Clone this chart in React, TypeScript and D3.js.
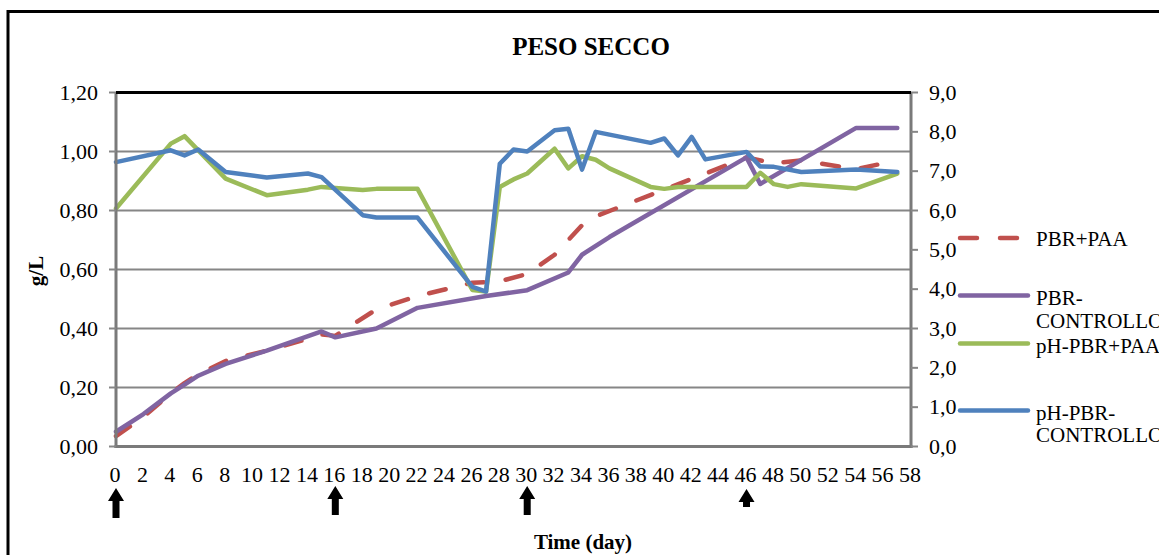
import React from 'react';
import * as d3 from 'd3';

// ---------- DATA ----------
const xTicks: number[] = d3.range(0, 59, 2);
const leftTicks: number[] = [0, 0.2, 0.4, 0.6, 0.8, 1.0, 1.2];
const rightTicks: number[] = [0, 1, 2, 3, 4, 5, 6, 7, 8, 9];

// g/L, left axis
const pbrPaa: [number, number][] = [
  [0, 0.035], [2, 0.1], [4, 0.18], [5, 0.215], [6, 0.245], [8, 0.29], [11, 0.325],
  [14, 0.365], [15, 0.38], [16, 0.375], [19, 0.465], [22, 0.51], [26, 0.555], [28, 0.56],
  [30, 0.585], [32, 0.65], [33, 0.7], [34, 0.75], [35, 0.78], [46, 0.98], [48, 0.96],
  [50, 0.97], [54, 0.94], [57, 0.97],
];
const pbrControllo: [number, number][] = [
  [0, 0.05], [2, 0.11], [4, 0.18], [5, 0.21], [6, 0.24], [8, 0.28], [11, 0.325],
  [15, 0.39], [16, 0.37], [19, 0.4], [22, 0.47], [27, 0.51], [30, 0.53], [33, 0.59],
  [34, 0.65], [36, 0.71], [46, 0.98], [47, 0.89], [54, 1.08], [57, 1.08],
];
// pH, right axis
const phPbrPaa: [number, number][] = [
  [0, 6.05], [4, 7.7], [5, 7.89], [8, 6.81], [11, 6.39], [14, 6.53], [15, 6.6],
  [18, 6.52], [19, 6.55], [22, 6.55], [26, 3.98], [27, 3.94], [28, 6.6], [29, 6.79],
  [30, 6.94], [32, 7.57], [33, 7.07], [34, 7.38], [35, 7.29], [36, 7.07], [39, 6.6],
  [40, 6.55], [41, 6.6], [46, 6.6], [47, 6.96], [48, 6.67], [49, 6.6], [50, 6.67],
  [54, 6.56], [57, 6.94],
];
const phPbrControllo: [number, number][] = [
  [0, 7.23], [4, 7.53], [5, 7.4], [6, 7.55], [8, 6.98], [11, 6.84], [14, 6.94],
  [15, 6.85], [18, 5.88], [19, 5.82], [22, 5.82], [26, 4.06], [27, 3.94], [28, 7.19],
  [29, 7.55], [30, 7.5], [32, 8.04], [33, 8.08], [34, 7.04], [35, 8.0], [36, 7.93],
  [39, 7.72], [40, 7.83], [41, 7.4], [42, 7.87], [43, 7.3], [46, 7.49], [47, 7.12],
  [48, 7.11], [50, 6.98], [54, 7.04], [57, 6.98],
];
const arrowDays: number[] = [0, 16, 30, 46];

// ---------- STYLE ----------
const FONT = '"Liberation Serif", "Times New Roman", serif';
const W = 1159;
const H = 555;
const L = 116, R = 911, T = 92.5, B = 446.5;
const GRID = '#868686';

const App: React.FC = () => {
  const x = d3.scaleLinear().domain([0, 58]).range([L, R]);
  const yL = d3.scaleLinear().domain([0, 1.2]).range([B, T]);
  const yR = d3.scaleLinear().domain([0, 9]).range([B, T]);

  const lineL = d3.line<[number, number]>().x(d => x(d[0])).y(d => yL(d[1]));
  const lineR = d3.line<[number, number]>().x(d => x(d[0])).y(d => yR(d[1]));

  const series = [
    { name: ['PBR+PAA'], color: '#C0504D', dash: '17 22', path: lineL(pbrPaa), ly: 238 },
    { name: ['PBR-', 'CONTROLLO'], color: '#8064A2', dash: undefined, path: lineL(pbrControllo), ly: 295.5 },
    { name: ['pH-PBR+PAA'], color: '#9BBB59', dash: undefined, path: lineR(phPbrPaa), ly: 343.5 },
    { name: ['pH-PBR-', 'CONTROLLO'], color: '#4F81BD', dash: undefined, path: lineR(phPbrControllo), ly: 410.5 },
  ];
  const textBase: Record<number, number[]> = { 0: [245.5], 1: [305, 327.5], 2: [353], 3: [420, 442] };

  const arrow = (cx: number, top: number, bottom: number, key: number) => {
    const hw = 8, sw = 3.5, hh = 13;
    const d = `M${cx},${top} L${cx + hw},${top + hh} L${cx + sw},${top + hh} L${cx + sw},${bottom} L${cx - sw},${bottom} L${cx - sw},${top + hh} L${cx - hw},${top + hh} Z`;
    return <path key={key} d={d} fill="#000" />;
  };
  const arrowSpan: Record<number, [number, number]> = { 0: [488, 518], 16: [486, 515], 30: [486, 515], 46: [489, 507] };

  return (
    <svg width={W} height={H} style={{ position: 'absolute', left: 0, top: 0, background: '#fff' }} fontFamily={FONT}>
      <rect x={0} y={0} width={W} height={H} fill="#fff" />
      {/* outer frame */}
      <rect x={8} y={11.5} width={1300} height={700} fill="none" stroke="#000" strokeWidth={3} />

      {/* title */}
      <text x={591} y={55} textAnchor="middle" fontSize={25} fontWeight="bold">PESO SECCO</text>

      {/* gridlines */}
      {leftTicks.filter(v => v > 0 && v < 1.2).map(v => (
        <line key={v} x1={L} x2={R} y1={yL(v)} y2={yL(v)} stroke={GRID} strokeWidth={2} />
      ))}

      {/* series */}
      {series.map((s, i) => (
        <path key={i} d={s.path || ''} fill="none" stroke={s.color} strokeWidth={4.5}
          strokeDasharray={s.dash} strokeLinecap="round" strokeLinejoin="round" />
      ))}

      {/* plot frame */}
      <line x1={L} x2={L} y1={T} y2={B + 1.5} stroke="#7a7a7a" strokeWidth={3} />
      <line x1={R} x2={R} y1={T} y2={B + 1.5} stroke="#7a7a7a" strokeWidth={3} />
      <line x1={L - 1.5} x2={R + 1.5} y1={B} y2={B} stroke="#7a7a7a" strokeWidth={3} />
      <line x1={L} x2={R} y1={T} y2={T} stroke="#000" strokeWidth={3} />

      {/* left axis */}
      {leftTicks.map(v => (
        <g key={v}>
          <line x1={L - 7} x2={L} y1={yL(v)} y2={yL(v)} stroke={GRID} strokeWidth={2} />
          <text x={98} y={yL(v) + 7} textAnchor="end" fontSize={22}>{v.toFixed(2).replace('.', ',')}</text>
        </g>
      ))}
      {/* right axis */}
      {rightTicks.map(v => (
        <g key={v}>
          <line x1={R} x2={R + 7} y1={yR(v)} y2={yR(v)} stroke={GRID} strokeWidth={2} />
          <text x={929} y={yR(v) + 7} textAnchor="start" fontSize={22}>{v.toFixed(1).replace('.', ',')}</text>
        </g>
      ))}
      {/* x axis labels */}
      {xTicks.map(v => (
        <text key={v} x={x(v) - 1} y={481.5} textAnchor="middle" fontSize={22}>{v}</text>
      ))}

      {/* arrows */}
      {arrowDays.map(dd => arrow(x(dd), arrowSpan[dd][0], arrowSpan[dd][1], dd))}

      {/* axis titles */}
      <text transform="translate(43,271) rotate(-90)" textAnchor="middle" fontSize={21} fontWeight="bold">g/L</text>
      <text x={583} y={548.5} textAnchor="middle" fontSize={21} fontWeight="bold">Time (day)</text>

      {/* legend */}
      {series.map((s, i) => (
        <g key={i}>
          <line x1={960} x2={1028} y1={s.ly} y2={s.ly} stroke={s.color} strokeWidth={4.5}
            strokeDasharray={s.dash ? '17 23' : undefined} strokeLinecap="round" />
          {s.name.map((t, j) => (
            <text key={j} x={1036} y={textBase[i][j]} fontSize={21}>{t}</text>
          ))}
        </g>
      ))}
    </svg>
  );
};

export default App;
